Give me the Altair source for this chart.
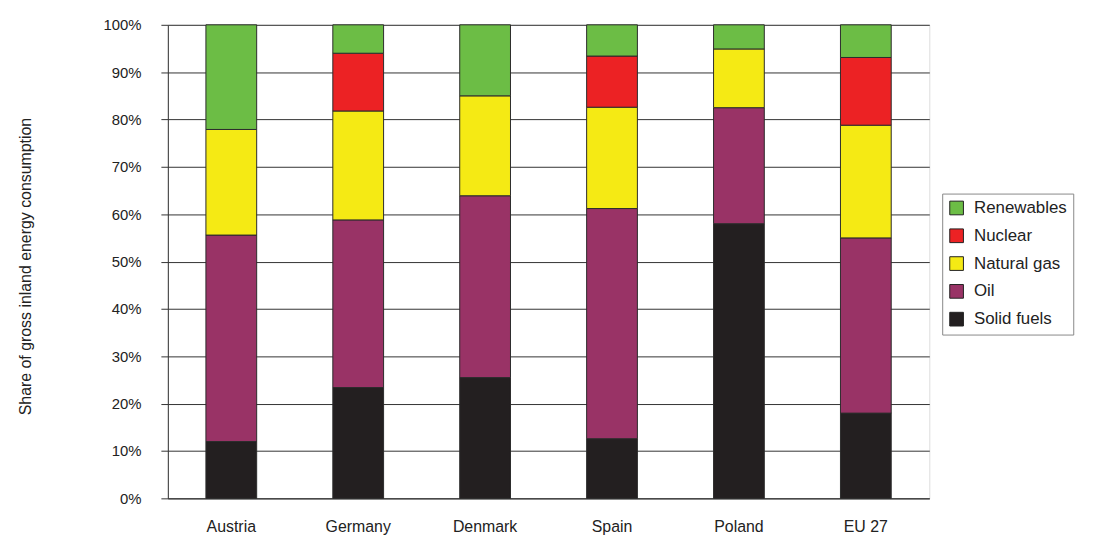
import altair as alt
import pandas as pd

countries = ["Austria", "Germany", "Denmark", "Spain", "Poland", "EU 27"]
sources = ["Renewables", "Nuclear", "Natural gas", "Oil", "Solid fuels"]
colors = ["#6cbd45", "#ec2224", "#f5ea14", "#993366", "#231f20"]

solid_fuels = [12.0, 23.4, 25.5, 12.6, 58.0, 18.0]
oil = [43.6, 35.4, 38.4, 48.6, 24.5, 37.0]
natural_gas = [22.3, 23.0, 21.1, 21.4, 12.4, 23.8]
nuclear = [0.0, 12.2, 0.0, 10.8, 0.0, 14.3]
renewables = [22.1, 6.0, 15.0, 6.6, 5.1, 6.9]

series = {
    "Solid fuels": solid_fuels,
    "Oil": oil,
    "Natural gas": natural_gas,
    "Nuclear": nuclear,
    "Renewables": renewables,
}
stack_rank = {"Solid fuels": 0, "Oil": 1, "Natural gas": 2, "Nuclear": 3, "Renewables": 4}

rows = []
for s, vals in series.items():
    for c, v in zip(countries, vals):
        if v > 0:
            rows.append({"country": c, "source": s, "share": v, "rank": stack_rank[s]})
df = pd.DataFrame(rows)

font = "Liberation Sans"

chart = alt.Chart(df).mark_bar(stroke="#2b2b2b", strokeWidth=1).encode(
    x=alt.X("country:N", sort=countries,
            scale=alt.Scale(paddingInner=0.6, paddingOuter=0.3),
            axis=alt.Axis(title=None, labelAngle=0, labelFont=font, labelFontSize=16,
                          labelColor="#222", labelPadding=20, ticks=False,
                          domainColor="#333", grid=False)),
    y=alt.Y("share:Q", stack="zero",
            scale=alt.Scale(domain=[0, 100], nice=False),
            axis=alt.Axis(title="Share of gross inland energy consumption",
                          values=list(range(0, 101, 10)),
                          labelExpr="datum.value + '%'",
                          labelFont=font, labelFontSize=15, labelColor="#222",
                          labelPadding=20, tickSize=7, tickColor="#333",
                          domainColor="#333", gridColor="#333", gridWidth=1,
                          titleFont=font, titleFontSize=16, titleFontWeight="normal",
                          titleColor="#222", titleX=-143, titleY=243,
                          titleAngle=-90, titleAlign="center", titleBaseline="middle")),
    color=alt.Color("source:N", scale=alt.Scale(domain=sources, range=colors),
                    legend=alt.Legend(title=None, orient="none", legendX=780, legendY=170,
                                      symbolType="square", symbolSize=190,
                                      symbolStrokeColor="#222", symbolStrokeWidth=1,
                                      labelFont=font, labelFontSize=17, labelColor="#222",
                                      rowPadding=9, strokeColor="#888", padding=6,
                                      labelOffset=9)),
    order=alt.Order("rank:Q", sort="ascending"),
).properties(
    width=767, height=477,
    autosize=alt.AutoSizeParams(type="none"),
    padding={"left": 161, "top": 15, "right": 179, "bottom": 38},
).configure_view(stroke="#999", strokeWidth=1.5).configure(background="white")

chart.save("out.html", embed_options={"renderer": "svg", "actions": False})
